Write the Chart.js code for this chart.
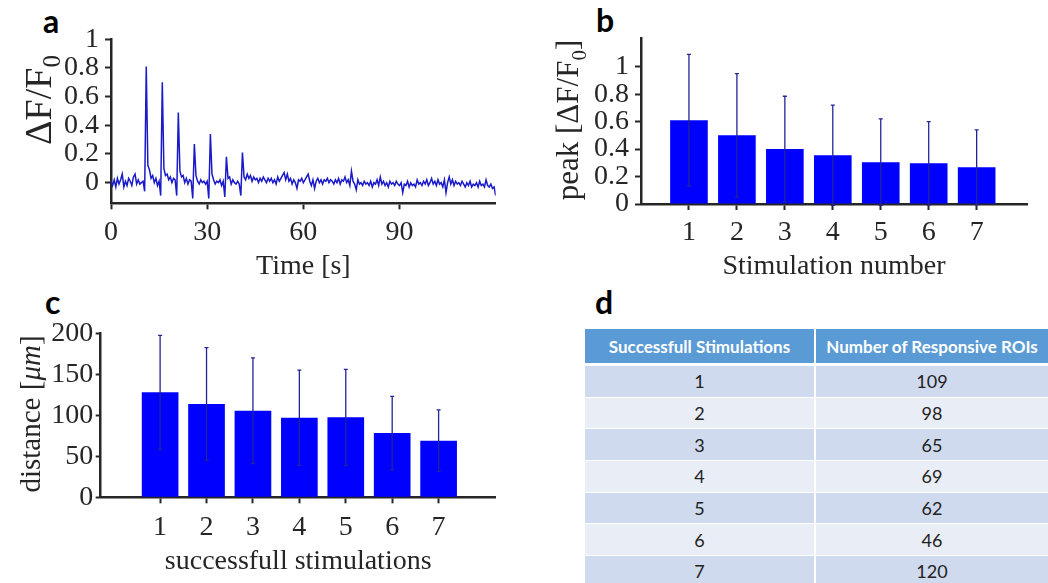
<!DOCTYPE html>
<html>
<head>
<meta charset="utf-8">
<script src="https://cdn.jsdelivr.net/npm/chart.js@4.4.1/dist/chart.umd.min.js"></script>
<style>
html, body { margin: 0; padding: 0; background: #fff; }
body { width: 1048px; height: 583px; position: relative; overflow: hidden; }
.panel { position: absolute; }
.lbl { position: absolute; font-family: Lato, 'Open Sans', sans-serif; font-weight: bold; font-size: 32px; line-height: 32px; color: #000; }
#tbl { position: absolute; left: 585px; top: 329px; width: 463px; border-collapse: separate; border-spacing: 0; table-layout: fixed; font-family: Lato, 'Open Sans', sans-serif; }
#tbl th { background: #5b9bd5; color: #fff; font-weight: bold; font-size: 17px; height: 34px; padding: 0; border-bottom: 3px solid #fff; white-space: nowrap; }
#tbl td { height: 30.67px; padding: 0; border-bottom: 1px solid #fff; font-size: 18px; color: #222; text-align: center; }
#tbl .c1 { border-right: 2px solid #fff; }
#tbl tr.dark td { background: #cfdaee; }
#tbl tr.light td { background: #e9edf5; }
</style>
</head>
<body>

<div class="lbl" style="left:43px;top:5px">a</div>
<div class="lbl" style="left:596px;top:4px">b</div>
<div class="lbl" style="left:45px;top:286px">c</div>
<div class="lbl" style="left:595px;top:286px">d</div>

<div class="panel" style="left:0;top:0;width:520px;height:290px"><canvas id="chartA"></canvas></div>
<div class="panel" style="left:530px;top:0;width:518px;height:290px"><canvas id="chartB"></canvas></div>
<div class="panel" style="left:0;top:290px;width:520px;height:293px"><canvas id="chartC"></canvas></div>

<table id="tbl">
  <colgroup><col style="width:231px"><col style="width:232px"></colgroup>
  <thead><tr><th class="c1">Successfull Stimulations</th><th>Number of Responsive ROIs</th></tr></thead>
  <tbody id="tblBody"></tbody>
</table>

<script>
// ---- panel a: example calcium trace (dF/F0), one sample every 0.5 s ----
const SAMPLE_DT = 0.5;
const trace = [
    0.01,-0.02, 0.02,-0.03, 0.03,-0.01, 0.02, 0.06,-0.03, 0.01,
   -0.02, 0.03, 0.01,-0.02, 0.04, 0.06,-0.01, 0.02,-0.01, 0.00,
    0.01,-0.06, 0.81, 0.12, 0.09, 0.03, 0.05, 0.00, 0.03,-0.02,
    0.01,-0.09, 0.70, 0.10, 0.05, 0.06, 0.02, 0.04, 0.00, 0.03,
    0.02,-0.09, 0.49, 0.08, 0.04, 0.05, 0.00, 0.03,-0.01, 0.02,
    0.01,-0.11, 0.27, 0.05, 0.01,-0.01, 0.02, 0.00, 0.01,-0.01,
    0.01,-0.11, 0.34, 0.06, 0.02,-0.01, 0.01, 0.00, 0.02,-0.02,
    0.01,-0.10, 0.18, 0.03, 0.04,-0.01, 0.02, 0.00,-0.01, 0.01,
   -0.01,-0.09, 0.21, 0.04, 0.02, 0.06, 0.03, 0.05, 0.01, 0.04,
    0.02, 0.03, 0.00, 0.03, 0.01, 0.04, 0.02, 0.00, 0.03, 0.01,
    0.03, 0.00, 0.02,-0.01, 0.04, 0.01, 0.03, 0.05, 0.07, 0.02,
    0.06, 0.01, 0.03,-0.01, 0.02, 0.00,-0.04, 0.02, 0.01, 0.03,
    0.00, 0.02, 0.04, 0.06, 0.01,-0.02, 0.02,-0.04, 0.01, 0.03,
    0.00, 0.02,-0.01, 0.02, 0.01, 0.03, 0.00, 0.02, 0.01,-0.01,
    0.02, 0.00, 0.03,-0.01, 0.02, 0.01, 0.04, 0.00, 0.02,-0.02,
    0.08, 0.01,-0.01,-0.05, 0.02,-0.01, 0.00,-0.02, 0.01,-0.01,
    0.00,-0.02, 0.01,-0.03, 0.00,-0.01, 0.02,-0.02, 0.04,-0.01,
    0.01,-0.02, 0.00,-0.03, 0.01,-0.01, 0.00,-0.02, 0.01,-0.01,
   -0.02, 0.00,-0.07,-0.01,-0.02, 0.01,-0.03, 0.00,-0.02,-0.01,
   -0.03, 0.02,-0.01, 0.00,-0.02, 0.01,-0.01, 0.02,-0.02, 0.00,
    0.03,-0.01, 0.01,-0.02, 0.02,-0.01, 0.00,-0.03, 0.02,-0.07,
    0.00, 0.04,-0.01, 0.02,-0.02, 0.01,-0.01, 0.00,-0.02, 0.01,
   -0.01,-0.03, 0.00,-0.02, 0.01,-0.03,-0.01,-0.02, 0.00,-0.03,
    0.01,-0.02,-0.01,-0.03, 0.02,-0.02,-0.03,-0.01,-0.04,-0.03,
   -0.09
];
const timeTicks = [0, 30, 60, 90];
const traceTicks = [0, 0.2, 0.4, 0.6, 0.8, 1];

// ---- panel b: peak amplitude per stimulation ----
const stimNumbers = [1, 2, 3, 4, 5, 6, 7];
const peakMean = [0.61, 0.50, 0.40, 0.355, 0.305, 0.296, 0.267];
const peakSd   = [0.48, 0.45, 0.385, 0.365, 0.315, 0.304, 0.273];
const peakTicks = [0, 0.2, 0.4, 0.6, 0.8, 1];

// ---- panel c: distance vs successful stimulations ----
const distMean = [128, 113.8, 105.6, 97, 97.5, 78.4, 69];
const distSd   = [69.5, 68.7, 64.4, 58, 58.5, 44.6, 37.5];
const distTicks = [0, 50, 100, 150, 200];

// ---- panel d: table ----
const successfulStims = [1, 2, 3, 4, 5, 6, 7];
const responsiveRois = [109, 98, 65, 69, 62, 46, 120];

const SERIF = "'Liberation Serif', 'Times New Roman', serif";
const INK = '#262626';
Chart.defaults.font.family = SERIF;
Chart.defaults.color = INK;
Chart.defaults.animation = false;

// error bars drawn on top of the bars
Chart.register({
    id: 'errorBars',
    afterDatasetsDraw(chart) {
        const ctx = chart.ctx;
        const y = chart.scales.y;
        chart.data.datasets.forEach((ds, di) => {
            if (!ds.errorBars) return;
            ctx.save();
            ctx.strokeStyle = '#24249a';
            ctx.lineWidth = 1.3;
            chart.getDatasetMeta(di).data.forEach((bar, i) => {
                const top = y.getPixelForValue(ds.data[i] + ds.errorBars[i]);
                const bot = y.getPixelForValue(ds.data[i] - ds.errorBars[i]);
                ctx.beginPath();
                ctx.moveTo(bar.x, bot); ctx.lineTo(bar.x, top);
                ctx.moveTo(bar.x - 2, top); ctx.lineTo(bar.x + 2, top);
                ctx.moveTo(bar.x - 2, bot); ctx.lineTo(bar.x + 2, bot);
                ctx.stroke();
            });
            ctx.restore();
        });
    }
});

// rotated y title with subscript / italic parts
Chart.register({
    id: 'yTitle',
    afterDraw(chart, args, opts) {
        if (!opts.parts) return;
        const ctx = chart.ctx;
        ctx.save();
        ctx.translate(opts.x, opts.y);
        ctx.rotate(-Math.PI / 2);
        ctx.fillStyle = INK;
        ctx.textBaseline = 'alphabetic';
        let total = 0;
        opts.parts.forEach(p => { ctx.font = p.font; total += ctx.measureText(p.text).width; });
        let cur = -total / 2;
        opts.parts.forEach(p => {
            ctx.font = p.font;
            ctx.fillText(p.text, cur, p.dy || 0);
            cur += ctx.measureText(p.text).width;
        });
        ctx.restore();
    }
});

function axisX(min, max, ticks, title, tickPad, titlePad, height) {
    return {
        type: 'linear', min: min, max: max, offset: false,
        afterBuildTicks: s => { s.ticks = ticks.map(v => ({ value: v })); },
        afterFit: s => { s.height = height; },
        grid: { display: true, offset: false, drawOnChartArea: false, drawTicks: true, tickLength: 6, tickWidth: 2, tickColor: INK },
        border: { display: true, color: INK, width: 2.5 },
        ticks: { font: { size: 28 }, padding: tickPad, maxRotation: 0, autoSkip: false, callback: v => String(v) },
        title: { display: true, text: title, font: { size: 28 }, padding: { top: 0, bottom: titlePad } }
    };
}

function axisY(min, max, ticks, tickLen, tickPad, width) {
    return {
        min: min, max: max,
        afterBuildTicks: s => { s.ticks = ticks.map(v => ({ value: v })); },
        afterFit: s => { s.width = width; },
        grid: { display: true, drawOnChartArea: false, drawTicks: true, tickLength: tickLen, tickWidth: 2, tickColor: INK },
        border: { display: true, color: INK, width: 2.5 },
        ticks: { font: { size: 28 }, padding: tickPad, autoSkip: false, callback: v => String(v) }
    };
}

const sub = (t, size, dy) => ({ text: t, font: size + 'px ' + SERIF, dy: dy });

// a
new Chart(document.getElementById('chartA'), {
    type: 'line',
    data: {
        labels: trace.map((_, i) => i * SAMPLE_DT),
        datasets: [{ data: trace, borderColor: '#1a1ac8', borderWidth: 1.5, pointRadius: 0, tension: 0 }]
    },
    options: {
        responsive: true, maintainAspectRatio: false,
        layout: { padding: { left: 0, right: 24.3, top: 39.3, bottom: 0 } },
        scales: {
            x: axisX(0, 120, timeTicks, 'Time [s]', 7, 6.5, 86.7),
            y: axisY(-0.144, 1, traceTicks, 6, 6, 111)
        },
        plugins: {
            legend: { display: false }, tooltip: { enabled: false },
            yTitle: { x: 51, y: 100, parts: [sub('\u0394F/F', 38, 0), sub('0', 25, 9)] }
        }
    }
});

// b
new Chart(document.getElementById('chartB'), {
    type: 'bar',
    data: {
        labels: stimNumbers,
        datasets: [{ data: peakMean, errorBars: peakSd, backgroundColor: '#0000ff', barPercentage: 0.785, categoryPercentage: 1 }]
    },
    options: {
        responsive: true, maintainAspectRatio: false,
        layout: { padding: { left: 0, right: 21, top: 38.3, bottom: 0 } },
        scales: {
            x: axisX(0, 8.05, stimNumbers, 'Stimulation number', 6, 6.5, 86),
            y: axisY(0, 1.207, peakTicks, 6, 6, 111)
        },
        plugins: {
            legend: { display: false }, tooltip: { enabled: false },
            yTitle: { x: 48, y: 120, parts: [sub('peak [\u0394F/F', 31, 0), sub('0', 21, 8), sub(']', 31, 0)] }
        }
    }
});

// c
new Chart(document.getElementById('chartC'), {
    type: 'bar',
    data: {
        labels: stimNumbers,
        datasets: [{ data: distMean, errorBars: distSd, backgroundColor: '#0000ff', barPercentage: 0.79, categoryPercentage: 1 }]
    },
    options: {
        responsive: true, maintainAspectRatio: false,
        layout: { padding: { left: 0, right: 24.3, top: 43.3, bottom: 0 } },
        scales: {
            x: axisX(-0.28, 8.23, stimNumbers, 'successfull stimulations', 7.6, 4.5, 85.7),
            y: axisY(0, 200, distTicks, 5, 2.5, 100.7)
        },
        plugins: {
            legend: { display: false }, tooltip: { enabled: false },
            yTitle: { x: 40, y: 124, parts: [
                { text: 'distance [', font: '29px ' + SERIF },
                { text: '\u03bcm', font: 'italic 29px ' + SERIF },
                { text: ']', font: '29px ' + SERIF }
            ] }
        }
    }
});

// d
const body = document.getElementById('tblBody');
successfulStims.forEach((s, i) => {
    const tr = document.createElement('tr');
    tr.className = i % 2 === 0 ? 'dark' : 'light';
    tr.innerHTML = '<td class="c1">' + s + '</td><td>' + responsiveRois[i] + '</td>';
    body.appendChild(tr);
});
</script>
</body>
</html>
